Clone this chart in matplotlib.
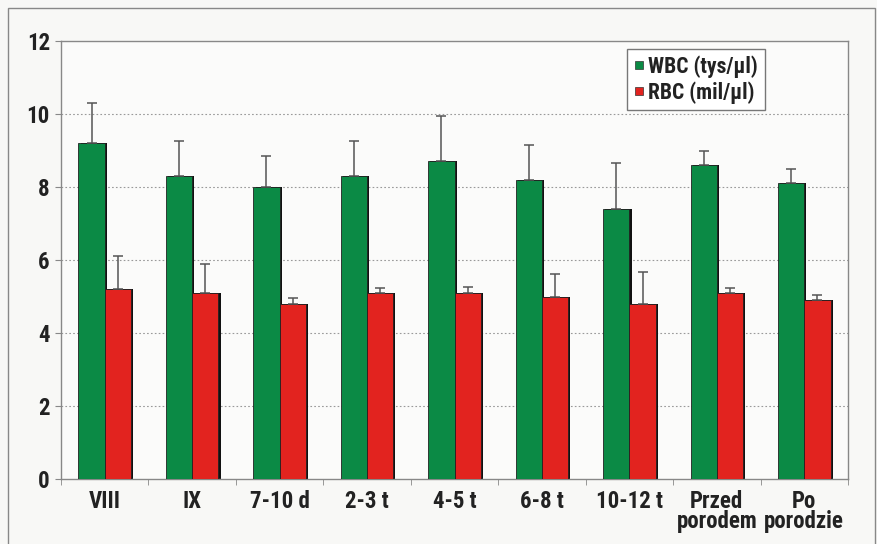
import numpy as np
import matplotlib
matplotlib.use("Agg")
import matplotlib.pyplot as plt
from matplotlib.lines import Line2D
from matplotlib.patches import Rectangle

# --- dane
categories = ["VIII", "IX", "7-10 d", "2-3 t", "4-5 t", "6-8 t", "10-12 t",
              "Przed\nporodem", "Po\nporodzie"]
wbc = [9.2, 8.3, 8.0, 8.3, 8.7, 8.2, 7.4, 8.6, 8.1]
wbc_sd = [1.1, 0.95, 0.85, 0.95, 1.25, 0.95, 1.25, 0.4, 0.4]
rbc = [5.2, 5.1, 4.8, 5.1, 5.1, 5.0, 4.8, 5.1, 4.9]
rbc_sd = [0.9, 0.8, 0.15, 0.12, 0.15, 0.63, 0.87, 0.12, 0.15]

GREEN = "#0b8a45"
RED = "#e2231f"
FONT = ["Roboto Condensed", "DejaVu Sans"]

plt.rcParams["font.family"] = FONT
plt.rcParams["font.weight"] = "bold"

fig = plt.figure(figsize=(8.77, 5.44), dpi=100, facecolor="#f8f8f6")
ax = fig.add_axes([61 / 877, 65 / 544, 787 / 877, 438 / 544])
ax.set_facecolor("#fbfbfa")

x = np.arange(len(categories))
w = 0.3
sh = 0.025  # cień słupków

for xs, vals, sds, col in [(x - w / 2, wbc, wbc_sd, GREEN), (x + w / 2, rbc, rbc_sd, RED)]:
    ax.bar(xs + sh, vals, w, color="#111111", zorder=2)
    ax.bar(xs, vals, w, color=col, edgecolor="#222222", linewidth=0.6, zorder=3)
    ax.errorbar(xs, vals, yerr=[np.zeros(len(vals)), sds], fmt="none",
                ecolor="#555555", elinewidth=1.1, capsize=3.5, capthick=1.1, zorder=4)

ax.set_xlim(-0.5, len(categories) - 0.5)
ax.set_ylim(0, 12)
ax.set_yticks(range(0, 13, 2))
ax.set_xticks(x)
ax.set_xticklabels(categories, fontsize=16.5, fontweight="bold", linespacing=0.82,
                   color="#222222")
ax.set_xticks(np.arange(-0.5, len(categories), 1), minor=True)
ax.tick_params(axis="x", which="major", length=0, pad=8)
ax.tick_params(axis="x", which="minor", length=4, color="#888888", direction="out")
ax.tick_params(axis="y", length=4, color="#888888", labelsize=16.5, pad=4,
               labelcolor="#222222")
for lbl in ax.get_yticklabels():
    lbl.set_fontweight("bold")

for y in range(2, 12, 2):
    ax.axhline(y, color="#999999", linestyle=(0, (1.5, 2)), linewidth=0.8, zorder=1)

for s in ax.spines.values():
    s.set_color("#888888")
    s.set_linewidth(1.0)

handles = [Line2D([], [], marker="s", linestyle="none", markersize=6,
                  markerfacecolor=GREEN, markeredgecolor="#333333", markeredgewidth=0.5),
           Line2D([], [], marker="s", linestyle="none", markersize=6,
                  markerfacecolor=RED, markeredgecolor="#333333", markeredgewidth=0.5)]
leg = ax.legend(handles, ["WBC (tys/µl)", "RBC (mil/µl)"], loc="upper left",
                bbox_to_anchor=(0.719, 0.982), borderaxespad=0, fancybox=False,
                framealpha=1, edgecolor="#777777", handlelength=0.5, handletextpad=0.2,
                borderpad=0.3, labelspacing=0.15,
                prop={"family": FONT, "weight": "bold", "size": 15.5})
leg.get_frame().set_linewidth(1.0)
for t in leg.get_texts():
    t.set_color("#222222")

# ramka wokół całego wykresu
fig.patches.append(Rectangle((8 / 877, -0.02), 867 / 877, 1 - 8 / 544 + 0.02,
                             transform=fig.transFigure, fill=False,
                             edgecolor="#888888", linewidth=1.0))

fig.savefig("out.png", dpi=100, facecolor=fig.get_facecolor())
